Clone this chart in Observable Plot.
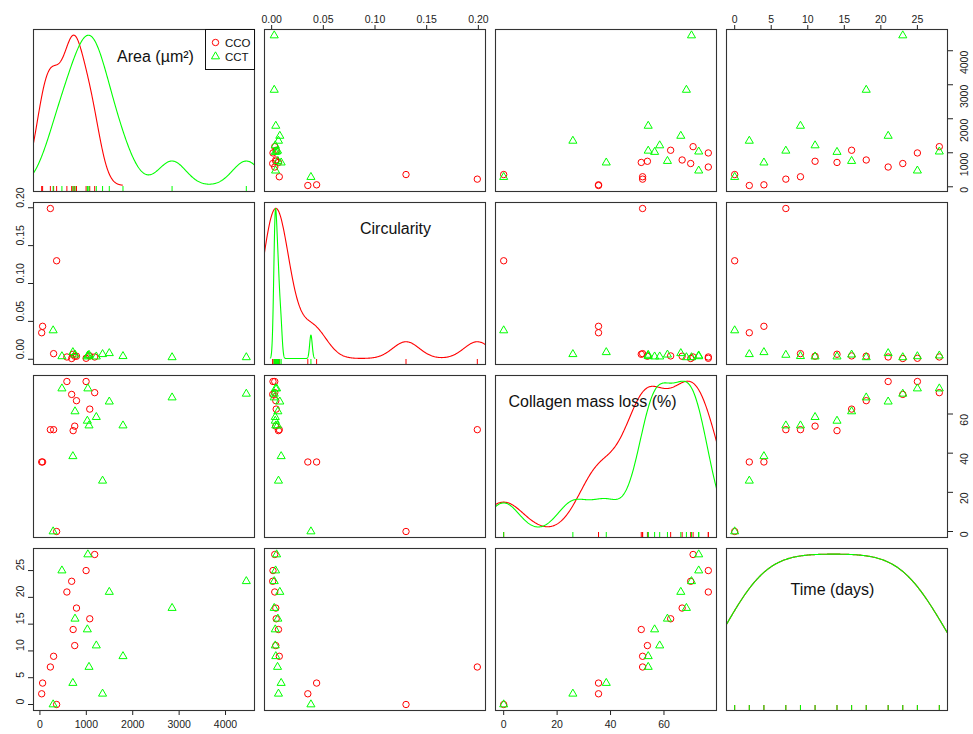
<!DOCTYPE html>
<html><head><meta charset="utf-8">
<script src="https://cdn.jsdelivr.net/npm/d3@7"></script>
<script src="https://cdn.jsdelivr.net/npm/@observablehq/plot@0.6"></script>
<style>
body{margin:0;background:#fff;font-family:"Liberation Sans",Arial,Helvetica,sans-serif;}
#fig{position:relative;width:973px;height:734px;overflow:hidden;background:#fff;}
#fig > svg{position:absolute;}
</style></head><body><div id="fig"></div>
<script>
// ---- data ----
const time = [0, 2, 4, 7, 9, 11, 14, 16, 18, 21, 23, 25, 28];
const groups = ["CCO", "CCT"];
const areaCCO = [360, 38, 58, 225, 295, 750, 716, 1074, 788, 581, 684, 995, 1180];
const areaCCT = [285, 1350, 710, 1058, 1790, 1215, 1022, 756, 2848, 1495, 4448, 474, 1033];
const circCCO = [0.130, 0.035, 0.0435, 0.199, 0.0074, 0.004, 0.0066, 0.0044, 0.004, 0.003, 0.001, 0.0013, 0.003];
const circCCT = [0.038, 0.0066, 0.0092, 0.0057, 0.004, 0.0035, 0.0035, 0.006, 0.0025, 0.0079, 0.0025, 0.0038, 0.0048];
const collCCO = [0, 35.5, 35.5, 52, 52, 53.8, 51.5, 62.5, 66.8, 76.6, 70, 76.6, 70.9];
const collCCT = [0, 25.9, 38.4, 54.1, 54.1, 58.4, 56.5, 61.3, 68.4, 66.3, 70.3, 73, 73];
const varLabels = ["Area (µm²)", "Circularity", "Collagen mass loss (%)", "Time (days)"];
const areaTicks = [0, 1000, 2000, 3000, 4000];
const circTicks = [0, 0.05, 0.10, 0.15, 0.20];
const collTicks = [0, 20, 40, 60];
const timeTicks = [0, 5, 10, 15, 20, 25];
const groupColors = ["#FF0000", "#00FF00"];
const groupSymbols = ["circle", "triangle"];

// ---- table ----
const series = {
  CCO: {area: areaCCO, circ: circCCO, coll: collCCO},
  CCT: {area: areaCCT, circ: circCCT, coll: collCCT}
};
const rows = [];
groups.forEach(g => time.forEach((t, i) => rows.push({
  group: g, area: series[g].area[i], circ: series[g].circ[i], coll: series[g].coll[i], time: t
})));

const vars = [
  {key: "area", ticks: areaTicks, fmt: d3.format("d")},
  {key: "circ", ticks: circTicks, fmt: d => d.toFixed(2)},
  {key: "coll", ticks: collTicks, fmt: d3.format("d")},
  {key: "time", ticks: timeTicks, fmt: d3.format("d")}
];
vars.forEach(v => {
  const [a, b] = d3.extent(rows, r => r[v.key]);
  const p = (b - a) * 0.04;
  v.min = a; v.max = b; v.domain = [a - p, b + p];
});

// ---- gaussian kernel density (R density(), bw.nrd0) ----
function bwNrd0(x) {
  const s = d3.deviation(x);
  const sorted = x.slice().sort(d3.ascending);
  const iqr = d3.quantileSorted(sorted, 0.75) - d3.quantileSorted(sorted, 0.25);
  let lo = Math.min(s, iqr / 1.34);
  if (!(lo > 0)) lo = s || 1;
  return 0.9 * lo * Math.pow(x.length, -0.2);
}
function kde(x, n = 512, cut = 3) {
  const bw = bwNrd0(x);
  const from = d3.min(x) - cut * bw, to = d3.max(x) + cut * bw;
  const phi = u => Math.exp(-0.5 * u * u) / Math.sqrt(2 * Math.PI);
  const m = x.length;
  const out = [];
  for (let k = 0; k < n; k++) {
    const x0 = from + (to - from) * k / (n - 1);
    let s = 0;
    for (let i = 0; i < m; i++) s += phi((x0 - x[i]) / bw);
    out.push({x: x0, d: s / (m * bw)});
  }
  return out;
}

// ---- layout ----
const colLeft = [33, 264, 495, 726];
const rowTop = [29, 202, 375, 548];
const W = 221, H = 162, M = 32;
const labelPos = [[122, 27], [131, 26], [97, 26], [106, 41]];
const fig = document.getElementById("fig");
const FONT = "'Liberation Sans', Arial, Helvetica, sans-serif";

for (let i = 0; i < 4; i++) {
  for (let j = 0; j < 4; j++) {
    const vx = vars[j], vy = vars[i];
    const marks = [];
    if (i === j) {
      groups.forEach((g, gi) => {
        const vals = rows.filter(r => r.group === g).map(r => r[vx.key]);
        const dens = kde(vals);
        const [dmin, dmax] = d3.extent(dens, d => d.d);
        const curve = dens.map(d => ({x: d.x, y: vx.min + d.d * (vx.max - vx.min) / (dmax - dmin)}));
        marks.push(Plot.line(curve, {x: "x", y: "y", stroke: groupColors[gi], strokeWidth: 1.1, clip: true}));
      });
      groups.forEach((g, gi) => {
        marks.push(Plot.tickX(rows.filter(r => r.group === g), {x: vx.key, stroke: groupColors[gi], strokeWidth: 1, insetTop: H - 5}));
      });
      marks.push(Plot.text([varLabels[i]], {text: d => d, frameAnchor: "top-left", dx: labelPos[i][0], dy: labelPos[i][1],
        textAnchor: "middle", lineAnchor: "middle", fontSize: 16, fill: "#111"}));
    } else {
      groups.forEach((g, gi) => {
        marks.push(Plot.dot(rows.filter(r => r.group === g), {x: vx.key, y: vy.key, stroke: groupColors[gi],
          symbol: groupSymbols[gi], r: gi === 0 ? 3.2 : 3.0, strokeWidth: 1, fill: "none"}));
      });
    }
    // axes
    if (i === 0 && j % 2 === 1) {
      marks.push(Plot.axisX({anchor: "top", ticks: vx.ticks, tickSize: 5, tickFormat: () => "", label: null, stroke: "#222"}));
      marks.push(Plot.text(vx.ticks, {x: d => d, text: vx.fmt, frameAnchor: "top", dy: -14, fontSize: 10.5, fill: "#222"}));
    }
    if (i === 3 && j % 2 === 0) {
      marks.push(Plot.axisX({anchor: "bottom", ticks: vx.ticks, tickSize: 5, tickFormat: () => "", label: null, stroke: "#222"}));
      marks.push(Plot.text(vx.ticks, {x: d => d, text: vx.fmt, frameAnchor: "bottom", dy: 17, fontSize: 10.5, fill: "#222"}));
    }
    if (j === 0 && i % 2 === 1) {
      marks.push(Plot.axisY({anchor: "left", ticks: vy.ticks, tickSize: 5, tickFormat: () => "", label: null, stroke: "#222"}));
      marks.push(Plot.text(vy.ticks, {y: d => d, text: vy.fmt, frameAnchor: "left", dx: -13, rotate: -90, fontSize: 10.5, fill: "#222"}));
    }
    if (j === 3 && i % 2 === 0) {
      marks.push(Plot.axisY({anchor: "right", ticks: vy.ticks, tickSize: 5, tickFormat: () => "", label: null, stroke: "#222"}));
      marks.push(Plot.text(vy.ticks, {y: d => d, text: vy.fmt, frameAnchor: "right", dx: 17, rotate: -90, fontSize: 10.5, fill: "#222"}));
    }
    marks.push(Plot.frame({stroke: "#333", strokeWidth: 1.1}));
    const svg = Plot.plot({
      width: W + 2 * M, height: H + 2 * M,
      marginTop: M, marginBottom: M, marginLeft: M, marginRight: M,
      x: {domain: vx.domain, axis: null},
      y: {domain: vx === vy ? vx.domain : vy.domain, axis: null},
      style: {background: "transparent", overflow: "visible", fontFamily: FONT, fontSize: "10.5px", color: "#222"},
      marks
    });
    svg.style.position = "absolute";
    svg.style.left = (colLeft[j] - M) + "px";
    svg.style.top = (rowTop[i] - M) + "px";
    fig.appendChild(svg);
  }
}

// ---- legend (top-right of the Area panel) ----
const lx = colLeft[0] + W - 49, ly = rowTop[0];
const leg = d3.create("svg").attr("width", 50).attr("height", 41)
  .style("position", "absolute").style("left", lx + "px").style("top", ly + "px").style("overflow", "visible");
leg.append("rect").attr("x", 0.5).attr("y", 0.5).attr("width", 49).attr("height", 40).attr("fill", "white").attr("stroke", "#111");
groups.forEach((g, gi) => {
  const cy = 13.5 + gi * 14;
  leg.append("path").attr("transform", `translate(10.5,${cy})`)
    .attr("d", d3.symbol(gi === 0 ? d3.symbolCircle : d3.symbolTriangle, gi === 0 ? Math.PI * 3.2 * 3.2 : Math.PI * 9)())
    .attr("fill", "none").attr("stroke", groupColors[gi]);
  leg.append("text").attr("x", 20).attr("y", cy).attr("dy", "0.36em").attr("font-size", 11.5)
    .attr("font-family", FONT).attr("fill", "#111").text(g);
});
fig.appendChild(leg.node());
</script></body></html>
